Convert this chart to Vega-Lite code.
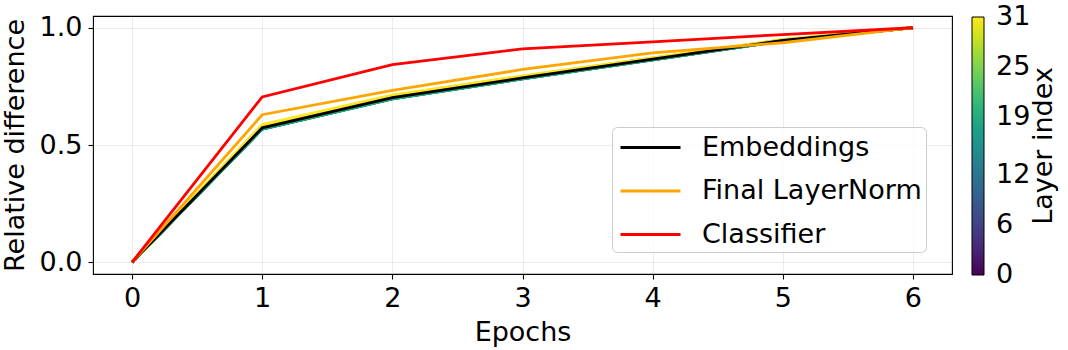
{
  "$schema": "https://vega.github.io/schema/vega-lite/v6.json",
  "width": 859,
  "height": 258,
  "autosize": {"type": "none"},
  "padding": {"left": 93, "top": 16, "right": 116, "bottom": 76},
  "background": "white",
  "config": {
    "font": "DejaVu Sans",
    "view": {"stroke": "black", "strokeWidth": 1.1},
    "axis": {"labelFontSize": 27, "titleFontSize": 27, "titleFontWeight": "normal", "labelColor": "black", "titleColor": "black", "tickColor": "black", "tickSize": 5, "tickWidth": 1.1, "domain": false, "gridColor": "#b0b0b0", "gridOpacity": 0.3, "gridWidth": 0.8},
    "legend": {"labelFontSize": 27, "titleFontSize": 27, "titleFontWeight": "normal", "labelColor": "black", "titleColor": "black", "labelLimit": 400}
  },
  "datasets": {
    "layers": [
      {"layer":0,"epoch":0,"value":0},{"layer":0,"epoch":1,"value":0.573},{"layer":0,"epoch":2,"value":0.702},{"layer":0,"epoch":3,"value":0.786},{"layer":0,"epoch":4,"value":0.866},{"layer":0,"epoch":5,"value":0.946},{"layer":0,"epoch":6,"value":1},
      {"layer":1,"epoch":0,"value":0},{"layer":1,"epoch":1,"value":0.573},{"layer":1,"epoch":2,"value":0.702},{"layer":1,"epoch":3,"value":0.786},{"layer":1,"epoch":4,"value":0.866},{"layer":1,"epoch":5,"value":0.946},{"layer":1,"epoch":6,"value":1},
      {"layer":2,"epoch":0,"value":0},{"layer":2,"epoch":1,"value":0.572},{"layer":2,"epoch":2,"value":0.701},{"layer":2,"epoch":3,"value":0.786},{"layer":2,"epoch":4,"value":0.866},{"layer":2,"epoch":5,"value":0.946},{"layer":2,"epoch":6,"value":1},
      {"layer":3,"epoch":0,"value":0},{"layer":3,"epoch":1,"value":0.572},{"layer":3,"epoch":2,"value":0.701},{"layer":3,"epoch":3,"value":0.785},{"layer":3,"epoch":4,"value":0.865},{"layer":3,"epoch":5,"value":0.946},{"layer":3,"epoch":6,"value":1},
      {"layer":4,"epoch":0,"value":0},{"layer":4,"epoch":1,"value":0.573},{"layer":4,"epoch":2,"value":0.702},{"layer":4,"epoch":3,"value":0.786},{"layer":4,"epoch":4,"value":0.866},{"layer":4,"epoch":5,"value":0.946},{"layer":4,"epoch":6,"value":1},
      {"layer":5,"epoch":0,"value":0},{"layer":5,"epoch":1,"value":0.572},{"layer":5,"epoch":2,"value":0.701},{"layer":5,"epoch":3,"value":0.785},{"layer":5,"epoch":4,"value":0.865},{"layer":5,"epoch":5,"value":0.946},{"layer":5,"epoch":6,"value":1},
      {"layer":6,"epoch":0,"value":0},{"layer":6,"epoch":1,"value":0.573},{"layer":6,"epoch":2,"value":0.702},{"layer":6,"epoch":3,"value":0.786},{"layer":6,"epoch":4,"value":0.866},{"layer":6,"epoch":5,"value":0.946},{"layer":6,"epoch":6,"value":1},
      {"layer":7,"epoch":0,"value":0},{"layer":7,"epoch":1,"value":0.572},{"layer":7,"epoch":2,"value":0.701},{"layer":7,"epoch":3,"value":0.785},{"layer":7,"epoch":4,"value":0.865},{"layer":7,"epoch":5,"value":0.946},{"layer":7,"epoch":6,"value":1},
      {"layer":8,"epoch":0,"value":0},{"layer":8,"epoch":1,"value":0.571},{"layer":8,"epoch":2,"value":0.700},{"layer":8,"epoch":3,"value":0.785},{"layer":8,"epoch":4,"value":0.865},{"layer":8,"epoch":5,"value":0.945},{"layer":8,"epoch":6,"value":1},
      {"layer":9,"epoch":0,"value":0},{"layer":9,"epoch":1,"value":0.571},{"layer":9,"epoch":2,"value":0.700},{"layer":9,"epoch":3,"value":0.784},{"layer":9,"epoch":4,"value":0.865},{"layer":9,"epoch":5,"value":0.945},{"layer":9,"epoch":6,"value":1},
      {"layer":10,"epoch":0,"value":0},{"layer":10,"epoch":1,"value":0.570},{"layer":10,"epoch":2,"value":0.700},{"layer":10,"epoch":3,"value":0.784},{"layer":10,"epoch":4,"value":0.864},{"layer":10,"epoch":5,"value":0.945},{"layer":10,"epoch":6,"value":1},
      {"layer":11,"epoch":0,"value":0},{"layer":11,"epoch":1,"value":0.570},{"layer":11,"epoch":2,"value":0.699},{"layer":11,"epoch":3,"value":0.784},{"layer":11,"epoch":4,"value":0.864},{"layer":11,"epoch":5,"value":0.945},{"layer":11,"epoch":6,"value":1},
      {"layer":12,"epoch":0,"value":0},{"layer":12,"epoch":1,"value":0.569},{"layer":12,"epoch":2,"value":0.699},{"layer":12,"epoch":3,"value":0.784},{"layer":12,"epoch":4,"value":0.864},{"layer":12,"epoch":5,"value":0.945},{"layer":12,"epoch":6,"value":1},
      {"layer":13,"epoch":0,"value":0},{"layer":13,"epoch":1,"value":0.569},{"layer":13,"epoch":2,"value":0.698},{"layer":13,"epoch":3,"value":0.783},{"layer":13,"epoch":4,"value":0.864},{"layer":13,"epoch":5,"value":0.945},{"layer":13,"epoch":6,"value":1},
      {"layer":14,"epoch":0,"value":0},{"layer":14,"epoch":1,"value":0.568},{"layer":14,"epoch":2,"value":0.698},{"layer":14,"epoch":3,"value":0.783},{"layer":14,"epoch":4,"value":0.863},{"layer":14,"epoch":5,"value":0.944},{"layer":14,"epoch":6,"value":1},
      {"layer":15,"epoch":0,"value":0},{"layer":15,"epoch":1,"value":0.568},{"layer":15,"epoch":2,"value":0.697},{"layer":15,"epoch":3,"value":0.782},{"layer":15,"epoch":4,"value":0.863},{"layer":15,"epoch":5,"value":0.944},{"layer":15,"epoch":6,"value":1},
      {"layer":16,"epoch":0,"value":0},{"layer":16,"epoch":1,"value":0.568},{"layer":16,"epoch":2,"value":0.697},{"layer":16,"epoch":3,"value":0.782},{"layer":16,"epoch":4,"value":0.863},{"layer":16,"epoch":5,"value":0.944},{"layer":16,"epoch":6,"value":1},
      {"layer":17,"epoch":0,"value":0},{"layer":17,"epoch":1,"value":0.568},{"layer":17,"epoch":2,"value":0.697},{"layer":17,"epoch":3,"value":0.782},{"layer":17,"epoch":4,"value":0.863},{"layer":17,"epoch":5,"value":0.944},{"layer":17,"epoch":6,"value":1},
      {"layer":18,"epoch":0,"value":0},{"layer":18,"epoch":1,"value":0.569},{"layer":18,"epoch":2,"value":0.698},{"layer":18,"epoch":3,"value":0.783},{"layer":18,"epoch":4,"value":0.864},{"layer":18,"epoch":5,"value":0.945},{"layer":18,"epoch":6,"value":1},
      {"layer":19,"epoch":0,"value":0},{"layer":19,"epoch":1,"value":0.570},{"layer":19,"epoch":2,"value":0.699},{"layer":19,"epoch":3,"value":0.784},{"layer":19,"epoch":4,"value":0.864},{"layer":19,"epoch":5,"value":0.945},{"layer":19,"epoch":6,"value":1},
      {"layer":20,"epoch":0,"value":0},{"layer":20,"epoch":1,"value":0.574},{"layer":20,"epoch":2,"value":0.703},{"layer":20,"epoch":3,"value":0.787},{"layer":20,"epoch":4,"value":0.866},{"layer":20,"epoch":5,"value":0.946},{"layer":20,"epoch":6,"value":1},
      {"layer":21,"epoch":0,"value":0},{"layer":21,"epoch":1,"value":0.575},{"layer":21,"epoch":2,"value":0.704},{"layer":21,"epoch":3,"value":0.787},{"layer":21,"epoch":4,"value":0.867},{"layer":21,"epoch":5,"value":0.947},{"layer":21,"epoch":6,"value":1},
      {"layer":22,"epoch":0,"value":0},{"layer":22,"epoch":1,"value":0.576},{"layer":22,"epoch":2,"value":0.704},{"layer":22,"epoch":3,"value":0.788},{"layer":22,"epoch":4,"value":0.867},{"layer":22,"epoch":5,"value":0.947},{"layer":22,"epoch":6,"value":1},
      {"layer":23,"epoch":0,"value":0},{"layer":23,"epoch":1,"value":0.577},{"layer":23,"epoch":2,"value":0.705},{"layer":23,"epoch":3,"value":0.788},{"layer":23,"epoch":4,"value":0.867},{"layer":23,"epoch":5,"value":0.947},{"layer":23,"epoch":6,"value":1},
      {"layer":24,"epoch":0,"value":0},{"layer":24,"epoch":1,"value":0.578},{"layer":24,"epoch":2,"value":0.706},{"layer":24,"epoch":3,"value":0.789},{"layer":24,"epoch":4,"value":0.868},{"layer":24,"epoch":5,"value":0.947},{"layer":24,"epoch":6,"value":1},
      {"layer":25,"epoch":0,"value":0},{"layer":25,"epoch":1,"value":0.580},{"layer":25,"epoch":2,"value":0.707},{"layer":25,"epoch":3,"value":0.790},{"layer":25,"epoch":4,"value":0.868},{"layer":25,"epoch":5,"value":0.948},{"layer":25,"epoch":6,"value":1},
      {"layer":26,"epoch":0,"value":0},{"layer":26,"epoch":1,"value":0.581},{"layer":26,"epoch":2,"value":0.708},{"layer":26,"epoch":3,"value":0.791},{"layer":26,"epoch":4,"value":0.869},{"layer":26,"epoch":5,"value":0.948},{"layer":26,"epoch":6,"value":1},
      {"layer":27,"epoch":0,"value":0},{"layer":27,"epoch":1,"value":0.582},{"layer":27,"epoch":2,"value":0.709},{"layer":27,"epoch":3,"value":0.791},{"layer":27,"epoch":4,"value":0.869},{"layer":27,"epoch":5,"value":0.948},{"layer":27,"epoch":6,"value":1},
      {"layer":28,"epoch":0,"value":0},{"layer":28,"epoch":1,"value":0.583},{"layer":28,"epoch":2,"value":0.710},{"layer":28,"epoch":3,"value":0.792},{"layer":28,"epoch":4,"value":0.870},{"layer":28,"epoch":5,"value":0.948},{"layer":28,"epoch":6,"value":1},
      {"layer":29,"epoch":0,"value":0},{"layer":29,"epoch":1,"value":0.584},{"layer":29,"epoch":2,"value":0.711},{"layer":29,"epoch":3,"value":0.793},{"layer":29,"epoch":4,"value":0.870},{"layer":29,"epoch":5,"value":0.949},{"layer":29,"epoch":6,"value":1},
      {"layer":30,"epoch":0,"value":0},{"layer":30,"epoch":1,"value":0.585},{"layer":30,"epoch":2,"value":0.712},{"layer":30,"epoch":3,"value":0.794},{"layer":30,"epoch":4,"value":0.871},{"layer":30,"epoch":5,"value":0.949},{"layer":30,"epoch":6,"value":1},
      {"layer":31,"epoch":0,"value":0},{"layer":31,"epoch":1,"value":0.587},{"layer":31,"epoch":2,"value":0.713},{"layer":31,"epoch":3,"value":0.795},{"layer":31,"epoch":4,"value":0.871},{"layer":31,"epoch":5,"value":0.949},{"layer":31,"epoch":6,"value":1}
    ],
    "series": [
      {"series":"Embeddings","epoch":0,"value":0},{"series":"Embeddings","epoch":1,"value":0.573},{"series":"Embeddings","epoch":2,"value":0.702},{"series":"Embeddings","epoch":3,"value":0.786},{"series":"Embeddings","epoch":4,"value":0.866},{"series":"Embeddings","epoch":5,"value":0.946},{"series":"Embeddings","epoch":6,"value":1},
      {"series":"Final LayerNorm","epoch":0,"value":0},{"series":"Final LayerNorm","epoch":1,"value":0.629},{"series":"Final LayerNorm","epoch":2,"value":0.733},{"series":"Final LayerNorm","epoch":3,"value":0.822},{"series":"Final LayerNorm","epoch":4,"value":0.893},{"series":"Final LayerNorm","epoch":5,"value":0.936},{"series":"Final LayerNorm","epoch":6,"value":1},
      {"series":"Classifier","epoch":0,"value":0},{"series":"Classifier","epoch":1,"value":0.705},{"series":"Classifier","epoch":2,"value":0.843},{"series":"Classifier","epoch":3,"value":0.910},{"series":"Classifier","epoch":4,"value":0.940},{"series":"Classifier","epoch":5,"value":0.971},{"series":"Classifier","epoch":6,"value":1}
    ]
  },
  "layer": [
    {
      "data": {"name": "layers"},
      "mark": {"type": "line", "strokeWidth": 2.8},
      "encoding": {
        "x": {"field": "epoch", "type": "quantitative", "scale": {"domain": [-0.3, 6.3], "nice": false, "zero": false}, "axis": {"values": [0,1,2,3,4,5,6], "format": "d", "title": "Epochs", "labelPadding": 6, "titlePadding": 8, "grid": true}},
        "y": {"field": "value", "type": "quantitative", "scale": {"domain": [-0.05, 1.05], "nice": false, "zero": false}, "axis": {"values": [0, 0.5, 1], "format": ".1f", "title": "Relative difference", "labelPadding": 6, "titlePadding": 10, "grid": true}},
        "color": {"field": "layer", "type": "quantitative", "scale": {"scheme": "viridis", "domain": [0, 31]},
          "legend": {"title": "Layer index", "orient": "none", "legendX": 879, "legendY": 1, "direction": "vertical", "gradientLength": 258, "gradientThickness": 12, "gradientStrokeColor": "black", "gradientStrokeWidth": 1, "values": [0, 6, 12, 19, 25, 31], "labelOffset": 12, "titleOrient": "right", "titleAnchor": "middle", "titlePadding": 28, "padding": 0,
            "encode": {"labels": {"update": {"baseline": {"value": "middle"}}}, "title": {"update": {"angle": {"value": -90}}}}}},
        "detail": {"field": "layer", "type": "nominal"}
      }
    },
    {
      "data": {"name": "series"},
      "mark": {"type": "line", "strokeWidth": 2.8},
      "encoding": {
        "x": {"field": "epoch", "type": "quantitative"},
        "y": {"field": "value", "type": "quantitative"},
        "color": {"field": "series", "type": "nominal", "sort": null, "scale": {"domain": ["Embeddings", "Final LayerNorm", "Classifier"], "range": ["#000000", "#ffa500", "#ff0000"]},
          "legend": {"title": null, "orient": "none", "legendX": 519, "legendY": 111, "symbolType": "M-2,0H2", "symbolSize": 900, "symbolStrokeWidth": 3, "symbolOffset": 18, "labelOffset": 35, "rowPadding": 13.5, "padding": 4, "fillColor": "rgba(255,255,255,0.8)", "strokeColor": "#cccccc", "cornerRadius": 5}}
      }
    }
  ],
  "resolve": {"scale": {"color": "independent"}}
}
